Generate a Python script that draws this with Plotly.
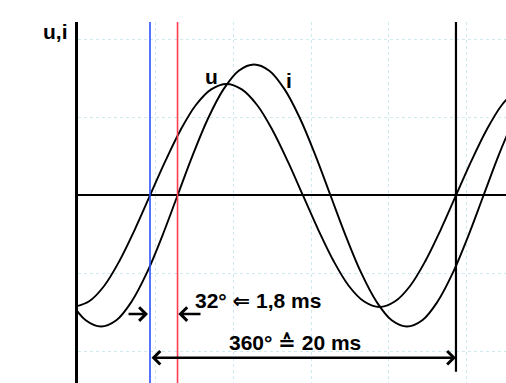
import plotly.graph_objects as go

# time in ms, values in arbitrary units (grid step = 1)
t_u = [-5, -4, -3, -2, -1, 0, 1, 2, 3, 4, 5, 6, 7, 8, 9, 10, 11, 12, 13, 14,
       15, 16, 17, 18, 19, 20, 21, 22, 23, 24]
u_vals = [-1.43, -1.36, -1.16, -0.84, -0.44, 0, 0.44, 0.84, 1.16, 1.36, 1.43,
          1.36, 1.16, 0.84, 0.44, 0, -0.44, -0.84, -1.16, -1.36, -1.43, -1.36,
          -1.16, -0.84, -0.44, 0, 0.44, 0.84, 1.16, 1.36]
t_i = [-6.2, -5.2, -4.2, -3.2, -2.2, -1.2, -0.2, 0.8, 1.8, 2.8, 3.8, 4.8, 5.8,
       6.8, 7.8, 8.8, 9.8, 10.8, 11.8, 12.8, 13.8, 14.8, 15.8, 16.8, 17.8,
       18.8, 19.8, 20.8, 21.8, 22.8, 23.8]
i_vals = [-0.99, -1.36, -1.60, -1.68, -1.60, -1.36, -0.99, -0.52, 0, 0.52, 0.99,
          1.36, 1.60, 1.68, 1.60, 1.36, 0.99, 0.52, 0, -0.52, -0.99, -1.36,
          -1.60, -1.68, -1.60, -1.36, -0.99, -0.52, 0, 0.52, 0.99]

t_u_zero = 0.0      # blue marker line
t_i_zero = 1.8      # red marker line (phase shift 1.8 ms)
t_period = 20.0     # one period

curve_labels = ["u", "i"]
shift_text = "32° ⇐ 1,8 ms"
period_text = "360° ≙ 20 ms"
axis_label = "u,i"

FONT = "Arial, Liberation Sans, DejaVu Sans, sans-serif"

fig = go.Figure()
fig.add_trace(go.Scatter(x=t_u, y=u_vals, mode="lines", line_shape="spline",
                         line=dict(color="black", width=1.9), hoverinfo="skip"))
fig.add_trace(go.Scatter(x=t_i, y=i_vals, mode="lines", line_shape="spline",
                         line=dict(color="black", width=1.9), hoverinfo="skip"))

# marker lines
fig.add_shape(type="line", xref="x", yref="paper", x0=t_u_zero, x1=t_u_zero,
              y0=0, y1=1, line=dict(color="rgb(40,80,255)", width=1.6))
fig.add_shape(type="line", xref="x", yref="paper", x0=t_i_zero, x1=t_i_zero,
              y0=0, y1=1, line=dict(color="rgb(255,60,80)", width=1.6))
fig.add_shape(type="line", xref="x", yref="y", x0=t_period, x1=t_period,
              y0=-2.26, y1=2.224, line=dict(color="black", width=2.2))

# arrows
fig.add_annotation(x=t_period, y=-2.08, ax=t_u_zero, ay=-2.08, axref="x", ayref="y",
                   text="", showarrow=True, arrowside="end+start", arrowhead=4,
                   startarrowhead=4, arrowwidth=2.6, arrowsize=1.0, startarrowsize=1.0,
                   arrowcolor="black", standoff=0, startstandoff=0)
fig.add_annotation(x=-0.13, y=-1.52, ax=-1.5, ay=-1.52, axref="x", ayref="y",
                   text="", showarrow=True, arrowhead=4, arrowwidth=2.5, arrowsize=1.05,
                   arrowcolor="black", standoff=0)
fig.add_annotation(x=1.85, y=-1.52, ax=3.4, ay=-1.52, axref="x", ayref="y",
                   text="", showarrow=True, arrowhead=4, arrowwidth=2.5, arrowsize=1.05,
                   arrowcolor="black", standoff=0)

# texts
fig.add_annotation(xref="paper", yref="y", x=-0.019, y=2.10, text=axis_label,
                   showarrow=False, xanchor="right", yanchor="middle",
                   font=dict(family=FONT, size=21, color="black", weight="bold"))
fig.add_annotation(x=3.99, y=1.52, text=curve_labels[0], showarrow=False,
                   font=dict(family=FONT, size=21, color="black", weight="bold"))
fig.add_annotation(x=9.08, y=1.48, text=curve_labels[1], showarrow=False,
                   font=dict(family=FONT, size=21, color="black", weight="bold"))
fig.add_annotation(x=2.81, y=-1.35, text=shift_text, showarrow=False, xanchor="left",
                   yanchor="middle", font=dict(family=FONT, size=21, color="black", weight="bold"))
fig.add_annotation(x=5.03, y=-1.89, text=period_text, showarrow=False, xanchor="left",
                   yanchor="middle", font=dict(family=FONT, size=21, color="black", weight="bold"))

grid_col = "rgba(175,218,232,0.6)"
fig.update_xaxes(range=[-4.706, 23.27], showticklabels=False, ticks="",
                 tick0=-4.706, dtick=5.08, showgrid=True, gridcolor=grid_col,
                 griddash="dot", gridwidth=1, zeroline=False, showline=False)
fig.update_yaxes(range=[-2.404, 2.224], showticklabels=False, ticks="",
                 tick0=0, dtick=1, showgrid=True, gridcolor=grid_col,
                 griddash="dot", gridwidth=1, zeroline=True, zerolinecolor="black",
                 zerolinewidth=2, showline=True, linecolor="black", linewidth=3,
                 mirror=False)
fig.update_layout(width=506, height=383, margin=dict(l=78, r=0, t=22, b=0),
                  paper_bgcolor="white", plot_bgcolor="white", showlegend=False)

fig.write_html("out.html", config={"displayModeBar": False},
               post_script="document.body.style.margin='0';document.body.style.overflow='hidden';")
